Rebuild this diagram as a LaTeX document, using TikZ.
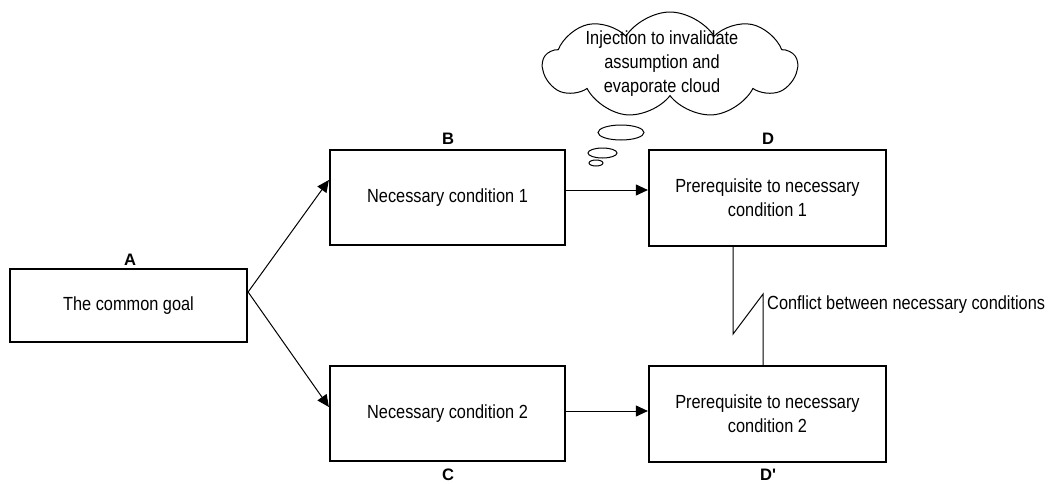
\documentclass[tikz,border=0pt]{standalone}
\usepackage{fontspec}
\setmainfont{Liberation Sans}
\newfontfamily\bodyfont{Liberation Sans}[FakeStretch=0.86]
\usetikzlibrary{arrows.meta,shapes.symbols}
\begin{document}
\begin{tikzpicture}[x=1pt,y=-1pt,
  font=\bodyfont\fontsize{19}{24}\selectfont,
  box/.style={draw,line width=2.2pt,inner sep=0pt,align=center,
    minimum width=#1},
  box/.default=235pt,
  tag/.style={inner sep=0pt,font=\normalfont\fontsize{16.6}{20}\selectfont\bfseries},
  arr/.style={line width=1pt,-{Triangle[length=12pt,width=11pt]}},
  thin/.style={line width=1pt}]
\useasboundingbox (0,0) rectangle (1053,483);

% condition boxes
\node[box=237pt,minimum height=73pt] (A) at (128.5,305.5) {The common goal};
\node[box,minimum height=95pt] (B) at (447.5,197.5) {Necessary condition 1};
\node[box,minimum height=95pt] (C) at (447.5,413.5) {Necessary condition 2};
\node[box=237pt,minimum height=96pt] (D) at (767.5,198) {Prerequisite to necessary\\condition 1};
\node[box=237pt,minimum height=96pt] (Dp) at (767.5,414) {Prerequisite to necessary\\condition 2};

% letter tags
\node[tag] (tA) at (130,260) {A};
\node[tag] (tB) at (448,139) {B};
\node[tag] (tC) at (448,474.5) {C};
\node[tag] (tD) at (768,139) {D};
\node[tag] (tDp) at (768,474.5) {D\textquotesingle};

% goal splits into the two necessary conditions
\coordinate (fork) at ([yshift=13.5pt]A.east);
\draw[arr] (fork) -- ([yshift=17.5pt]B.west);
\draw[arr] (fork) -- ([yshift=6.5pt]C.west);

% conditions lead to their prerequisites
\draw[arr] ([yshift=7.5pt]B.east) -- ([yshift=8pt]D.west);
\draw[arr] ([yshift=2.5pt]C.east) -- ([yshift=3pt]Dp.west);

% conflict zig-zag between the prerequisites
\draw[thin] ([xshift=-34.5pt]D.south) -- ++(0,87) coordinate (z1)
  -- ++(30,-40) coordinate (z2) -- ([xshift=-4.5pt]Dp.north);
\node[anchor=west,inner sep=0pt] (conf) at (767,305) {Conflict between necessary conditions};

% thought cloud
\node[cloud,draw,thin,cloud puffs=9,cloud puff arc=115,aspect=2.4,
  minimum width=254pt,minimum height=106pt,inner sep=0pt] (cl) at (670,65) {};
\node[align=center,inner sep=0pt] (cltext) at (662,64)
  {Injection to invalidate\\assumption and\\evaporate cloud};
\draw[thin] (621,132.5) ellipse [x radius=23pt,y radius=7.5pt];
\draw[thin] (602.5,153) ellipse [x radius=14.5pt,y radius=5pt];
\draw[thin] (596,163) ellipse [x radius=7pt,y radius=3pt];
\end{tikzpicture}
\end{document}
